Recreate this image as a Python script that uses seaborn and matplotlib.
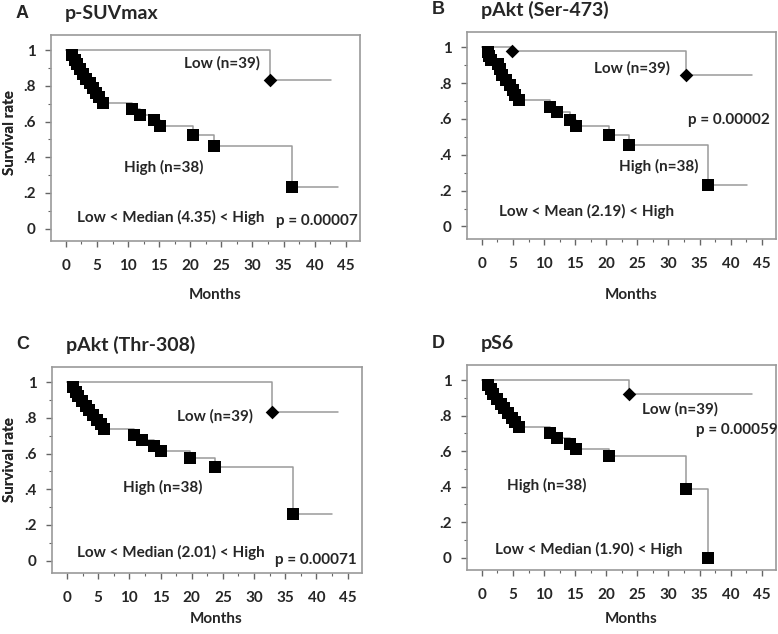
import numpy as np
import pandas as pd
import matplotlib
matplotlib.use("Agg")
import matplotlib.pyplot as plt
import seaborn as sns
from matplotlib.ticker import MultipleLocator

# ---------------- DATA ----------------
panel_letters = ["A", "B", "C", "D"]
panel_titles = ["p-SUVmax", "pAkt (Ser-473)", "pAkt (Thr-308)", "pS6"]
cut_labels = ["Low < Median (4.35) < High", "Low < Mean (2.19) < High",
              "Low < Median (2.01) < High", "Low < Median (1.90) < High"]
p_values = ["p = 0.00007", "p = 0.00002", "p = 0.00071", "p = 0.00059"]

# High group (n=38): event times (months) and survival after each event
high_t_A = [1.0, 1.4, 1.8, 2.3, 2.8, 3.3, 3.8, 4.3, 4.8, 5.3, 6.0, 10.6, 11.9, 14.1, 15.1, 20.5, 23.8, 36.4]
high_s_A = [0.973, 0.947, 0.920, 0.894, 0.867, 0.841, 0.814, 0.788, 0.761, 0.735, 0.705, 0.672, 0.638, 0.606, 0.572, 0.525, 0.465, 0.235]
high_t_B = [1.0, 1.2, 1.5, 2.6, 2.9, 3.3, 3.8, 4.5, 5.0, 5.4, 6.0, 11.0, 12.1, 14.1, 15.1, 20.4, 23.7, 36.3]
high_s_B = [0.974, 0.950, 0.930, 0.905, 0.880, 0.845, 0.815, 0.790, 0.762, 0.735, 0.707, 0.669, 0.636, 0.594, 0.561, 0.510, 0.454, 0.230]
high_t_C = [1.0, 1.4, 1.8, 2.4, 3.0, 3.6, 4.2, 4.8, 5.4, 6.0, 10.7, 12.0, 13.9, 15.0, 19.8, 23.8, 36.3]
high_s_C = [0.974, 0.947, 0.921, 0.895, 0.868, 0.842, 0.816, 0.789, 0.763, 0.736, 0.702, 0.678, 0.642, 0.614, 0.574, 0.527, 0.263]
high_t_D = [1.0, 1.4, 1.8, 2.4, 3.0, 3.6, 4.2, 4.8, 5.4, 6.0, 11.0, 12.1, 14.1, 15.1, 20.4, 32.9, 36.3]
high_s_D = [0.974, 0.947, 0.921, 0.895, 0.868, 0.842, 0.816, 0.789, 0.763, 0.736, 0.702, 0.674, 0.642, 0.614, 0.574, 0.386, 0.0]
high_end = [43.8, 42.6, 42.5, 36.3]

# Low group (n=39)
low_t_A = [32.9]
low_s_A = [0.833]
low_t_B = [4.9, 32.9]
low_s_B = [0.978, 0.843]
low_t_C = [32.8]
low_s_C = [0.832]
low_t_D = [23.6]
low_s_D = [0.921]
low_end = [42.7, 43.4, 43.5, 43.4]

high_t = [high_t_A, high_t_B, high_t_C, high_t_D]
high_s = [high_s_A, high_s_B, high_s_C, high_s_D]
low_t = [low_t_A, low_t_B, low_t_C, low_t_D]
low_s = [low_s_A, low_s_B, low_s_C, low_s_D]

# ---------------- LAYOUT ----------------
W, H = 778, 634
# axes boxes in pixels: left, top, right, bottom
boxes = [(51, 35, 360, 241), (467, 32, 776, 239), (52, 367, 362, 573), (467, 365, 776, 570)]
months_y = [295, 295, 619, 619]
ylabel_y = [133, 133, 460, 460]
# annotation positions (data coords)
low_lab = [(25.1, 0.925), (24.2, 0.884), (23.7, 0.806), (31.9, 0.838)]
high_lab = [(15.7, 0.343), (28.4, 0.333), (15.4, 0.407), (10.5, 0.407)]
cut_pos = [(16.8, 0.062), (16.9, 0.086), (16.6, 0.043), (17.2, 0.043)]
p_pos = [(40.3, 0.043), (39.7, 0.594), (39.9, 0.002), (41.0, 0.721)]

sns.set_style("white")
plt.rcParams["font.family"] = ["Lato", "DejaVu Sans"]
plt.rcParams["font.weight"] = "bold"

fig = plt.figure(figsize=(W / 100, H / 100), dpi=100)
LINE = "#9a9a9a"

for i in range(4):
    l, t, r, b = boxes[i]
    ax = fig.add_axes([l / W, 1 - b / H, (r - l) / W, (b - t) / H])

    ht = [0] + high_t[i] + [high_end[i]]
    hs = [1] + high_s[i] + [high_s[i][-1]]
    lt = [0] + low_t[i] + [low_end[i]]
    ls = [1] + low_s[i] + [low_s[i][-1]]

    sns.lineplot(x=ht, y=hs, ax=ax, drawstyle="steps-post", estimator=None,
                 sort=False, color=LINE, lw=1.1)
    sns.lineplot(x=lt, y=ls, ax=ax, drawstyle="steps-post", estimator=None,
                 sort=False, color=LINE, lw=1.1)
    sns.scatterplot(x=high_t[i], y=high_s[i], ax=ax, marker="s", s=85,
                    color="black", edgecolor="black", linewidth=0, zorder=3)
    sns.scatterplot(x=low_t[i], y=low_s[i], ax=ax, marker="D", s=48,
                    color="black", edgecolor="black", linewidth=0, zorder=3)

    ax.set_xlim(-2.4, 47.3)
    ax.set_ylim(-0.07, 1.085)
    ax.set_xticks(np.arange(0, 46, 5))
    ax.set_yticks([0, 0.2, 0.4, 0.6, 0.8, 1.0])
    ax.set_yticklabels(["0", ".2", ".4", ".6", ".8", "1"])
    ax.xaxis.set_minor_locator(MultipleLocator(2.5))
    ax.yaxis.set_minor_locator(MultipleLocator(0.1))
    ax.tick_params(axis="both", which="major", direction="out", length=4,
                   width=1, color="#666666", labelsize=11, pad=7)
    ax.tick_params(axis="both", which="minor", direction="out", length=2.5,
                   width=0.8, color="#666666")
    ax.tick_params(axis="x", which="major", pad=9)
    ax.tick_params(left=True, bottom=True, which="both")
    for lab in ax.get_xticklabels() + ax.get_yticklabels():
        lab.set_fontweight("bold")
    for sp in ax.spines.values():
        sp.set_color(LINE)
        sp.set_linewidth(1.2)

    ax.set_xlabel("Months", fontsize=11, fontweight="bold")
    ax.set_ylabel("Survival rate", fontsize=11, fontweight="bold")
    ax.xaxis.set_label_coords(0.53, (b - (months_y[i] - 7)) / (b - t))
    ax.yaxis.set_label_coords((17 - l) / (r - l), (b - ylabel_y[i]) / (b - t))

    ax.text(*low_lab[i], "Low (n=39)", ha="center", va="center", fontsize=11, fontweight="bold")
    ax.text(*high_lab[i], "High (n=38)", ha="center", va="center", fontsize=11, fontweight="bold")
    ax.text(*cut_pos[i], cut_labels[i], ha="center", va="center", fontsize=11, fontweight="bold")
    ax.text(*p_pos[i], p_values[i], ha="center", va="center", fontsize=11, fontweight="bold")

    fig.text((l - 29) / W, 1 - (t - 22) / H, panel_letters[i], ha="center", va="center",
             fontsize=13, fontweight="bold", family=["Liberation Sans", "DejaVu Sans"])
    fig.text((l + 14) / W, 1 - (t - 22) / H, panel_titles[i], ha="left", va="center",
             fontsize=14, fontweight="bold")

fig.savefig("out.png", dpi=100)
